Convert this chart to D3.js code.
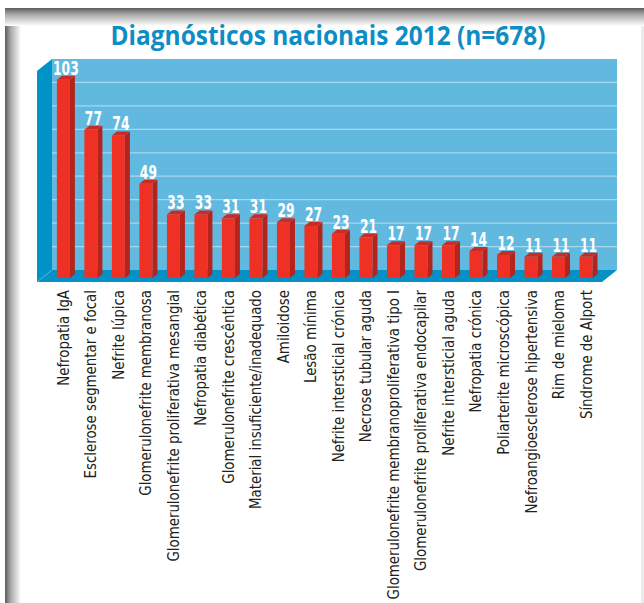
<!DOCTYPE html>
<html>
<head>
<meta charset="utf-8">
<script src="https://cdn.jsdelivr.net/npm/d3@7"></script>
<style>
  body { margin: 0; background: #fff; }
  svg { display: block; }
</style>
</head>
<body>
<div class="main"></div>
<script>
// data
var categories = ["Nefropatia IgA", "Esclerose segmentar e focal", "Nefrite lúpica",
  "Glomerulonefrite membranosa", "Glomerulonefrite proliferativa mesangial",
  "Nefropatia diabética", "Glomerulonefrite crescêntica", "Material insuficiente/inadequado",
  "Amiloidose", "Lesão mínima", "Nefrite intersticial crónica", "Necrose tubular aguda",
  "Glomerulonefrite membranoproliferativa tipo I", "Glomerulonefrite proliferativa endocapilar",
  "Nefrite intersticial aguda", "Nefropatia crónica", "Poliarterite microscópica",
  "Nefroangioesclerose hipertensiva", "Rim de mieloma", "Síndrome de Alport"];
var values = [103, 77, 74, 49, 33, 33, 31, 31, 29, 27, 23, 21, 17, 17, 17, 14, 12, 11, 11, 11];
var gridValues = [12, 24, 36, 48, 60, 72, 84, 96];
var title = "Diagnósticos nacionais 2012 (n=678)";

const W = 644, H = 603;
const condensed = "'Liberation Sans Narrow', 'DejaVu Sans Condensed', 'Roboto', sans-serif";

var svg = d3.select(".main").append("svg")
    .attr("width", W)
    .attr("height", H);

var defs = svg.append("defs");
var gTop = defs.append("linearGradient").attr("id", "shTop")
    .attr("x1", 0).attr("y1", 0).attr("x2", 0).attr("y2", 1);
gTop.append("stop").attr("offset", "0%").attr("stop-color", "#5c5c5c");
gTop.append("stop").attr("offset", "35%").attr("stop-color", "#a8a8a8");
gTop.append("stop").attr("offset", "100%").attr("stop-color", "#ffffff");
var gLeft = defs.append("linearGradient").attr("id", "shLeft")
    .attr("x1", 0).attr("y1", 0).attr("x2", 1).attr("y2", 0);
gLeft.append("stop").attr("offset", "0%").attr("stop-color", "#5c5c5c");
gLeft.append("stop").attr("offset", "35%").attr("stop-color", "#a8a8a8");
gLeft.append("stop").attr("offset", "100%").attr("stop-color", "#ffffff");

//page shadow
svg.append("rect").attr("x", 5).attr("y", 8).attr("width", 16).attr("height", H - 8)
    .style("fill", "url(#shLeft)");
svg.append("rect").attr("x", 5).attr("y", 8).attr("width", W - 5).attr("height", 18)
    .style("fill", "url(#shTop)");
svg.append("rect").attr("x", 641).attr("y", 26).attr("width", 3).attr("height", H - 26)
    .style("fill", "#ececec");

//title
svg.append("text")
    .attr("x", 328)
    .attr("y", 45)
    .attr("text-anchor", "middle")
    .attr("textLength", 435)
    .attr("lengthAdjust", "spacingAndGlyphs")
    .text(title)
    .style("fill", "#0e8cc6")
    .style("font-family", "'Open Sans', sans-serif")
    .style("font-size", "26px")
    .style("font-weight", "700");

// scales
var x = d3.scaleBand()
    .domain(categories)
    .range([50, 599.4])
    .paddingInner(0.527)
    .paddingOuter(0.25);

var y = d3.scaleLinear().domain([0, 108]).range([278, 70]);
var wallY = d3.scaleLinear().domain([0, 108]).range([270, 59]);

const dx = 5, dy = 4;
const wallL = 52, wallR = 617, floorDx = 15, floorDy = 12;

//back wall
svg.append("rect")
    .attr("x", wallL).attr("y", wallY(108))
    .attr("width", wallR - wallL).attr("height", wallY(0) - wallY(108))
    .style("fill", "#62b9df");

svg.selectAll(".grid")
    .data(gridValues)
    .enter()
    .append("line")
    .attr("class", "grid")
    .attr("x1", wallL).attr("x2", wallR)
    .attr("y1", function(d) { return wallY(d); })
    .attr("y2", function(d) { return wallY(d); })
    .attr("stroke", "#a6d8ee")
    .attr("stroke-width", 1.3);

//left wall
svg.append("path")
    .attr("d", "M" + (wallL - floorDx) + "," + (wallY(108) + floorDy) +
        "L" + wallL + "," + wallY(108) +
        "L" + wallL + "," + wallY(0) +
        "L" + (wallL - floorDx) + "," + (wallY(0) + floorDy) + "Z")
    .style("fill", "#0093c8");

//floor
svg.append("path")
    .attr("d", "M" + (wallL - floorDx) + "," + (wallY(0) + floorDy) +
        "L" + wallL + "," + wallY(0) +
        "L" + wallR + "," + wallY(0) +
        "L" + (wallR - floorDx) + "," + (wallY(0) + floorDy) + "Z")
    .style("fill", "#0590c6");
svg.append("line")
    .attr("x1", wallL - floorDx).attr("y1", wallY(0) + floorDy)
    .attr("x2", wallL).attr("y2", wallY(0))
    .attr("stroke", "#4fb0dc").attr("stroke-width", 1);

// bars
var bars = svg.selectAll(".bar")
    .data(values)
    .enter()
    .append("g")
    .attr("class", "bar");

bars.append("path")
    .attr("d", function(d, i) {
        var x0 = x(categories[i]) + x.bandwidth(), yt = y(d), yb = y(0);
        return "M" + x0 + "," + yt + "L" + (x0 + dx) + "," + (yt - dy) +
            "L" + (x0 + dx) + "," + (yb - dy) + "L" + x0 + "," + yb + "Z";
    })
    .style("fill", "#b3241c");

bars.append("path")
    .attr("d", function(d, i) {
        var x0 = x(categories[i]), yt = y(d), bw = x.bandwidth();
        return "M" + x0 + "," + yt + "L" + (x0 + dx) + "," + (yt - dy) +
            "L" + (x0 + bw + dx) + "," + (yt - dy) + "L" + (x0 + bw) + "," + yt + "Z";
    })
    .style("fill", "#c92c24");

bars.append("rect")
    .attr("x", function(d, i) { return x(categories[i]); })
    .attr("y", function(d) { return y(d); })
    .attr("width", x.bandwidth())
    .attr("height", function(d) { return y(0) - y(d); })
    .style("fill", "#ee3124");

// value labels, squeezed to look like a condensed face
bars.append("text")
    .attr("transform", function(d, i) {
        return "translate(" + (x(categories[i]) + x.bandwidth() / 2 + 2.5) + "," + (y(d) - 5) + ") scale(0.72,1)";
    })
    .attr("text-anchor", "middle")
    .text(function(d) { return d; })
    .style("fill", "#ffffff")
    .style("font-family", condensed)
    .style("font-size", "19px")
    .style("font-weight", "700");

// category labels
svg.selectAll(".cat")
    .data(categories)
    .enter()
    .append("text")
    .attr("class", "cat")
    .attr("transform", function(d) {
        return "translate(" + (x(d) + x.bandwidth() / 2 + 5.5) + ",290) rotate(-90) scale(0.9,1)";
    })
    .attr("text-anchor", "end")
    .text(function(d) { return d; })
    .style("fill", "#231f20")
    .style("font-family", condensed)
    .style("font-size", "16.5px");
</script>
</body>
</html>
